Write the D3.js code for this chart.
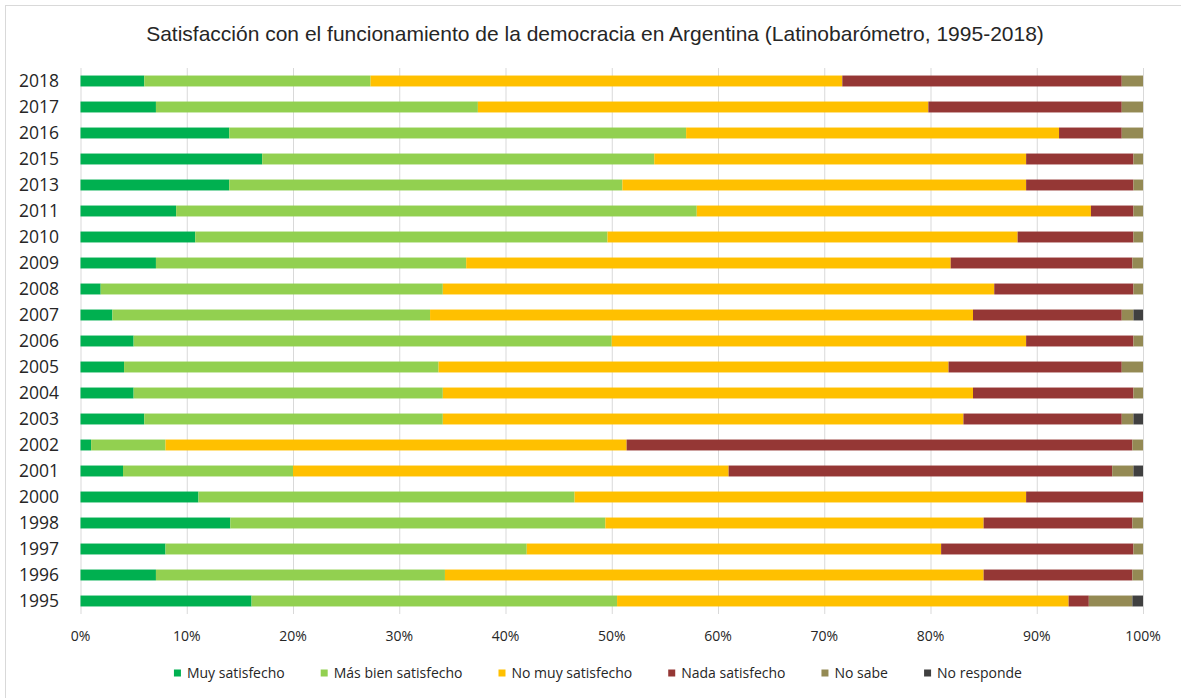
<!DOCTYPE html>
<meta charset="utf-8">
<style>
body { margin: 0; background: #fff; }
svg text { font-family: "Open Sans", sans-serif; fill: #262626; }
.grid line { stroke: #d9d9d9; stroke-width: 1; }
.grid path { display: none; }
.title { font-family: "Liberation Sans", Arial, sans-serif; font-size: 21px; fill: #262626; }
</style>
<svg width="1181" height="698"></svg>
<script src="https://cdn.jsdelivr.net/npm/d3@7"></script>
<script>

// years, top to bottom as in the chart
var years = ["2018", "2017", "2016", "2015", "2013", "2011", "2010", "2009", "2008", "2007", "2006",
             "2005", "2004", "2003", "2002", "2001", "2000", "1998", "1997", "1996", "1995"];

var seriesNames = ["Muy satisfecho", "Más bien satisfecho", "No muy satisfecho", "Nada satisfecho", "No sabe", "No responde"];
var seriesColors = ["#00b050", "#92d050", "#ffc000", "#953735", "#948a54", "#404040"];

// percentages, same order as years
var muySatisfecho   = [6, 7.1, 14, 17.1, 14, 9, 10.8, 7.1, 1.9, 3, 5, 4.1, 5, 6, 1, 4, 11.1, 14.1, 8, 7.1, 16.1];
var masBien         = [21.3, 30.3, 43, 36.9, 37, 49, 38.8, 29.2, 32.2, 29.9, 45, 29.6, 29.1, 28.1, 7, 16, 35.4, 35.3, 34, 27.2, 34.4];
var noMuySatisfecho = [44.4, 42.4, 35.1, 35, 38, 37.1, 38.6, 45.6, 51.9, 51.1, 39, 48, 49.9, 49, 43.4, 41, 42.5, 35.6, 39, 50.7, 42.5];
var nadaSatisfecho  = [26.3, 18.2, 5.9, 10.1, 10.1, 4, 10.9, 17.1, 13.1, 14, 10.1, 16.3, 15.1, 14.9, 47.6, 36.1, 11, 14, 18.1, 14, 1.9];
var noSabe          = [2, 2, 2, 0.9, 0.9, 0.9, 0.9, 1, 0.9, 1.1, 0.9, 2, 0.9, 1.1, 1, 2, 0, 1, 0.9, 1, 4.1];
var noResponde      = [0, 0, 0, 0, 0, 0, 0, 0, 0, 0.9, 0, 0, 0, 0.9, 0, 0.9, 0, 0, 0, 0, 1];

var xTicks = [0, 0.1, 0.2, 0.3, 0.4, 0.5, 0.6, 0.7, 0.8, 0.9, 1];

var allSeries = [muySatisfecho, masBien, noMuySatisfecho, nadaSatisfecho, noSabe, noResponde];

var rows = years.map(function(y, i) {
  var r = { year: y };
  seriesNames.forEach(function(s, j) { r[s] = allSeries[j][i]; });
  return r;
});

var svg = d3.select("svg");

// chart frame
svg.append("rect")
    .attr("x", 5.5).attr("y", 5.5)
    .attr("width", 1200).attr("height", 720)
    .attr("fill", "none").attr("stroke", "#d9d9d9");

svg.append("text")
    .attr("class", "title")
    .attr("x", 595).attr("y", 41)
    .attr("text-anchor", "middle")
    .text("Satisfacción con el funcionamiento de la democracia en Argentina (Latinobarómetro, 1995-2018)");

var x = d3.scaleLinear().domain([0, 1]).range([80.5, 1143]);
var y = d3.scaleBand().domain(years).range([68, 614]).paddingInner(0.58).paddingOuter(0.29);

var stack = d3.stack().keys(seriesNames).offset(d3.stackOffsetExpand);
var layers = stack(rows);

// vertical gridlines
svg.append("g")
    .attr("class", "grid")
    .attr("transform", "translate(0,614)")
    .call(d3.axisBottom(x).tickValues(xTicks).tickSize(-546).tickFormat(""));

svg.append("g")
  .selectAll("g")
  .data(layers)
  .enter().append("g")
    .attr("fill", function(d, i) { return seriesColors[i]; })
  .selectAll("rect")
  .data(function(d) { return d; })
  .enter().append("rect")
    .attr("x", function(d) { return x(d[0]); })
    .attr("width", function(d) { return Math.max(0, x(d[1]) - x(d[0])); })
    .attr("y", function(d) { return y(d.data.year); })
    .attr("height", y.bandwidth());

// year labels
svg.append("g")
  .selectAll("text")
  .data(years)
  .enter().append("text")
    .attr("x", 59)
    .attr("y", function(d) { return y(d) + y.bandwidth() / 2; })
    .attr("dy", "0.35em")
    .attr("text-anchor", "end")
    .style("font-size", "17.5px")
    .text(function(d) { return d; });

// x tick labels
var fmt = d3.format(".0%");
svg.append("g")
  .selectAll("text")
  .data(xTicks)
  .enter().append("text")
    .attr("x", function(d) { return x(d); })
    .attr("y", 636)
    .attr("dy", "0.35em")
    .attr("text-anchor", "middle")
    .style("font-size", "14px")
    .text(function(d) { return fmt(d); });

// legend
var legend = svg.append("g");
var items = legend.selectAll("g")
    .data(seriesNames)
  .enter().append("g");

items.append("rect")
    .attr("width", 7).attr("height", 7)
    .attr("y", -3.5)
    .attr("fill", function(d, i) { return seriesColors[i]; });

items.append("text")
    .attr("x", 13)
    .attr("dy", "0.35em")
    .style("font-size", "14px")
    .text(function(d) { return d; });

var gap = 36, pos = 0;
items.each(function() {
  var w = this.getBBox().width;
  d3.select(this).attr("transform", "translate(" + pos + ",0)");
  pos += w + gap;
});
pos -= gap;
legend.attr("transform", "translate(" + (598 - pos / 2) + ",673)");

</script>
